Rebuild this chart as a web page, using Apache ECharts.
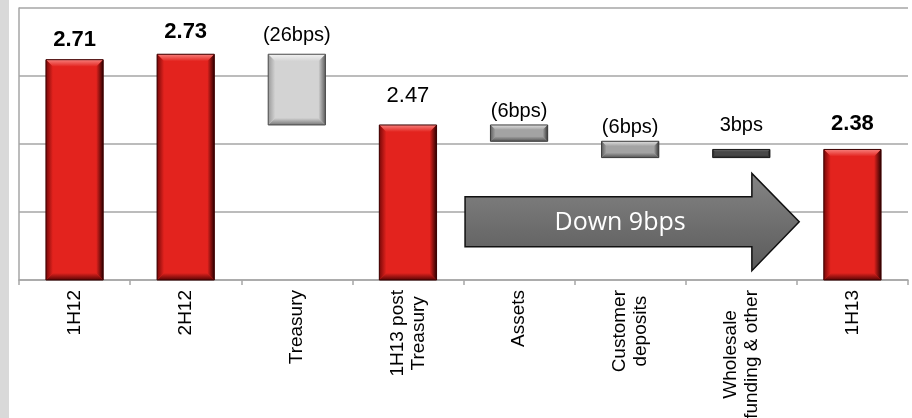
<!DOCTYPE html>
<html>
<head>
<meta charset="utf-8">
<script src="https://cdn.jsdelivr.net/npm/echarts@6/dist/echarts.min.js"></script>
<style>
html,body{margin:0;padding:0;background:#fff;}
#chart{width:912px;height:418px;}
</style>
</head>
<body>
<div id="chart"></div>
<script>
// ---- data ----
const categories = ['1H12', '2H12', 'Treasury', '1H13 post\nTreasury', 'Assets', 'Customer\ndeposits', 'Wholesale\nfunding & other', '1H13'];
const totals = [2.71, 2.73, null, 2.47, null, null, null, 2.38];
const changesBps = [null, null, -26, null, -6, -6, 3, null];
const valueLabels = ['2.71', '2.73', '(26bps)', '2.47', '(6bps)', '(6bps)', '3bps', '2.38'];
const arrowText = 'Down 9bps';

// ---- build waterfall segments ----
const segments = [];
let level = 0;
for (let i = 0; i < categories.length; i++) {
  if (totals[i] != null) {
    level = totals[i];
    segments.push([i, 1.9, totals[i]]);
  } else {
    const next = Math.round((level + changesBps[i] / 100) * 10000) / 10000;
    segments.push([i, Math.min(level, next), Math.max(level, next)]);
    level = next;
  }
}

// ---- styles (not data) ----
const kinds = ['red', 'red', 'light', 'red', 'mid', 'mid', 'dark', 'red'];
const labelBold = [true, true, false, false, false, false, false, true];
const labelSize = [22, 22, 20, 22, 20, 20, 20, 22];
const labelGap = [9, 11, 9, 18, 3, 4, 14, 15];
const pal = {
  red:   {face: '#e3231e', top: '#f7807c', left: '#7a0808', right: '#300101', bottom: '#5a0505', stroke: '#3a0000'},
  light: {face: '#d3d3d3', top: '#f2f2f2', left: '#9a9a9a', right: '#5e5e5e', bottom: '#777777', stroke: '#4a4a4a'},
  mid:   {face: '#a3a3a3', top: '#e0e0e0', left: '#606060', right: '#3a3a3a', bottom: '#555555', stroke: '#3a3a3a'},
  dark:  {face: '#474747', top: '#6a6a6a', left: '#2a2a2a', right: '#151515', bottom: '#222222', stroke: '#1a1a1a'}
};
function lg(x0, y0, x1, y1, c0, c1) {
  return {type: 'linear', x: x0, y: y0, x2: x1, y2: y1, colorStops: [{offset: 0, color: c0}, {offset: 1, color: c1}]};
}

function renderBar(params, api) {
  const idx = api.value(0);
  const lo = api.value(1), hi = api.value(2);
  const pTop = api.coord([idx, hi]);
  const pBot = api.coord([idx, lo]);
  const w = api.size([1, 0])[0] * 0.515;
  const x = pTop[0] - w / 2, y = pTop[1], h = pBot[1] - pTop[1];
  const p = pal[kinds[idx]];
  const b = Math.min(7, h * 0.3, w * 0.2);
  const children = [
    {type: 'rect', shape: {x: x, y: y, width: w, height: h}, style: {fill: p.face}},
    {type: 'polygon', shape: {points: [[x, y], [x + w, y], [x + w - b, y + b], [x + b, y + b]]}, style: {fill: lg(0, 0, 0, 1, p.top, p.face)}},
    {type: 'polygon', shape: {points: [[x, y + h], [x + w, y + h], [x + w - b, y + h - b], [x + b, y + h - b]]}, style: {fill: lg(0, 1, 0, 0, p.bottom, p.face)}},
    {type: 'polygon', shape: {points: [[x, y], [x + b, y + b], [x + b, y + h - b], [x, y + h]]}, style: {fill: lg(0, 0, 1, 0, p.left, p.face)}},
    {type: 'polygon', shape: {points: [[x + w, y], [x + w - b, y + b], [x + w - b, y + h - b], [x + w, y + h]]}, style: {fill: lg(1, 0, 0, 0, p.right, p.face)}},
    {type: 'rect', shape: {x: x, y: y, width: w, height: h}, style: {fill: 'none', stroke: p.stroke, lineWidth: 1}},
    {type: 'text', style: {
      text: valueLabels[idx], x: pTop[0], y: y - labelGap[idx],
      align: 'center', verticalAlign: 'bottom', textAlign: 'center', textVerticalAlign: 'bottom',
      fontSize: labelSize[idx], fontWeight: labelBold[idx] ? 'bold' : 'normal',
      fontFamily: 'Liberation Sans, Arial, sans-serif', fill: '#000'
    }}
  ];
  return {type: 'group', children: children};
}

function renderArrow(params, api) {
  const c0 = api.coord([0, 2])[0];
  const band = api.coord([1, 2])[0] - c0;
  const X = f => c0 + f * band;
  const Y = v => api.coord([0, v])[1];
  const bl = X(3.514), hb = X(6.095), tip = X(6.521);
  const bt = Y(2.206), bb = Y(2.022), ht = Y(2.292), hbm = Y(1.934), ty = Y(2.114);
  return {type: 'group', children: [
    {type: 'polygon', shape: {points: [[bl, bt], [hb, bt], [hb, ht], [tip, ty], [hb, hbm], [hb, bb], [bl, bb]]},
     style: {fill: lg(0, 0, 0, 1, '#858585', '#5a5a5a'), stroke: '#111', lineWidth: 1.5}},
    {type: 'text', style: {
      text: arrowText, x: X(4.909), y: ty + 1,
      align: 'center', verticalAlign: 'middle', textAlign: 'center', textVerticalAlign: 'middle',
      fontSize: 25, fontFamily: 'Open Sans, sans-serif', fill: '#fff'
    }}
  ]};
}

const chart = echarts.init(document.getElementById('chart'), null, {renderer: 'canvas'});
const gridColor = '#a6a6a6';
chart.setOption({
  animation: false,
  backgroundColor: '#fff',
  graphic: [{type: 'rect', left: 0, top: 0, shape: {width: 9, height: 418}, style: {fill: '#d9d9d9'}, z: -10}],
  grid: {left: 19, right: 4, top: 8, bottom: 138, containLabel: false, outerBoundsMode: 'none'},
  xAxis: {
    type: 'category', data: categories, boundaryGap: true,
    axisLine: {show: true, lineStyle: {color: gridColor, width: 1.5}},
    axisTick: {show: true, length: 5, lineStyle: {color: gridColor, width: 1.5}},
    axisLabel: {interval: 0, rotate: 90, margin: 10, fontSize: 19, lineHeight: 21,
      fontFamily: 'Liberation Sans, Arial, sans-serif', color: '#000',
      formatter: v => v.split('\n').map(s => '{c|' + s + '}').join('\n'),
      rich: {c: {align: 'center', fontSize: 19, lineHeight: 21, fontFamily: 'Liberation Sans, Arial, sans-serif', color: '#000'}}},
    splitLine: {show: false}
  },
  yAxis: [
    {type: 'value', min: 1.9, max: 2.9, position: 'left',
     axisLine: {show: true, lineStyle: {color: gridColor, width: 1.5}},
     axisTick: {show: false}, axisLabel: {show: false}, splitLine: {show: false}},
    {type: 'value', min: 0, max: 4, interval: 1, position: 'right',
     axisLine: {show: false}, axisTick: {show: false}, axisLabel: {show: false},
     splitLine: {show: true, lineStyle: {color: gridColor, width: 1.5}}}
  ],
  series: [
    {type: 'custom', name: 'bars', renderItem: renderBar, data: segments, xAxisIndex: 0, yAxisIndex: 0,
     encode: {x: 0, y: [1, 2]}, z: 3},
    {type: 'custom', name: 'arrow', renderItem: renderArrow, data: [[0, 2]], xAxisIndex: 0, yAxisIndex: 0,
     encode: {x: 0, y: 1}, z: 4}
  ]
});
</script>
</body>
</html>
